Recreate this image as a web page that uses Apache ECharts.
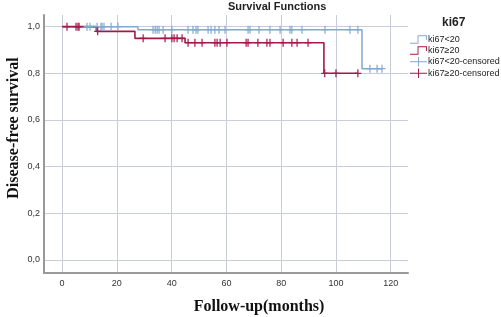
<!DOCTYPE html>
<html>
<head>
<meta charset="utf-8">
<script src="https://cdn.jsdelivr.net/npm/echarts@6/dist/echarts.min.js"></script>
<style>
  html, body { margin: 0; padding: 0; background: #fff; }
  #main { width: 501px; height: 317px; }
</style>
</head>
<body>
<div id="main"></div>
<script>
// Kaplan-Meier steps (time in months, survival)
var lowStepT = [0, 27.7, 109.5, 116.8];
var lowStepS = [1.0, 0.987, 0.82, 0.82];
var highStepT = [0, 12.5, 26.6, 44.9, 95.6, 108.0];
var highStepS = [1.0, 0.98, 0.95, 0.931, 0.80, 0.80];

// censored times
var lowCensor = [9.1, 10.2, 12.8, 14.2, 14.6, 15.3, 17.9, 20.4, 33.2, 34.0, 34.7, 35.4, 36.9, 40.1,
  46.0, 47.8, 48.9, 49.6, 53.3, 54.4, 55.8, 57.3, 59.5, 67.9, 68.6, 71.9, 75.9, 79.6, 83.2, 83.9,
  87.6, 96.0, 105.1, 108.0, 112.4, 115.0, 116.8];
var highCensor = [1.8, 5.1, 5.8, 6.2, 13.0, 29.6, 37.6, 40.1, 40.9, 42.0, 43.8, 46.0, 48.5, 51.1,
  55.8, 56.6, 57.7, 60.2, 67.2, 67.9, 71.5, 74.8, 75.9, 80.7, 83.9, 85.8, 89.8, 95.9, 100.0, 108.0];

var xTicks = [0, 20, 40, 60, 80, 100, 120];
var yTicks = [0, 0.2, 0.4, 0.6, 0.8, 1.0];

var blue = '#84a8d2';
var red = '#a3194b';

function steps(t, s) {
  var out = [];
  for (var i = 0; i < t.length; i++) out.push([t[i], s[i]]);
  return out;
}
function survAt(t, s, x) {
  var v = s[0];
  for (var i = 0; i < t.length; i++) { if (t[i] <= x) v = s[i]; }
  return v;
}
function censorPts(c, t, s) {
  return c.map(function (x) { return [x, survAt(t, s, x)]; });
}

var stepIcon = 'path://M0,8L8,8L8,0L18,0L18,5L17,5L17,1L9,1L9,9L0,9Z';
var crossIcon = 'path://M0,4.5h18v1h-18z M8.5,0h1v10h-1z';
var crossSym = 'path://M0,3.4h7v1.2h-7z M2.9,0h1.2v8h-1.2z';

var myChart = echarts.init(document.getElementById('main'));
var option = {
  backgroundColor: '#fff',
  animation: false,
  title: [{
    text: 'Survival Functions',
    left: 228, top: 1, padding: 0,
    textStyle: { fontFamily: 'Liberation Sans', fontWeight: 'bold', fontSize: 11, color: '#222' }
  }, {
    text: 'ki67',
    left: 442, top: 17, padding: 0,
    textStyle: { fontFamily: 'Liberation Sans', fontWeight: 'bold', fontSize: 12, color: '#222' }
  }],
  legend: {
    orient: 'vertical',
    left: 410, top: 35, padding: 0,
    itemWidth: 17, itemHeight: 10, itemGap: 2,
    itemStyle: { borderWidth: 0 },
    textStyle: { fontFamily: 'Liberation Sans', fontSize: 9, color: '#222', padding: [0, 0, 0, -4] },
    data: [
      { name: 'ki67<20', icon: stepIcon, itemStyle: { color: blue } },
      { name: 'ki67≥20', icon: stepIcon, itemStyle: { color: red } },
      { name: 'ki67<20-censored', icon: crossIcon, itemStyle: { color: blue } },
      { name: 'ki67≥20-censored', icon: crossIcon, itemStyle: { color: red } }
    ]
  },
  grid: { left: 44, right: 93, top: 15, bottom: 44 },
  xAxis: {
    type: 'value', min: -6.6, max: 126.3,
    axisLine: { show: true, onZero: false, lineStyle: { color: '#999', width: 2 } },
    axisTick: { show: false, customValues: xTicks },
    axisLabel: { customValues: xTicks, margin: 6, fontSize: 9, color: '#333', fontFamily: 'Liberation Sans' },
    splitLine: { show: true, lineStyle: { color: '#c8cdd9', width: 1 } }
  },
  yAxis: {
    type: 'value', min: -0.056, max: 1.05,
    axisLine: { show: true, onZero: false, lineStyle: { color: '#999', width: 2 } },
    axisTick: { show: false, customValues: yTicks },
    axisLabel: {
      customValues: yTicks, margin: 4, fontSize: 9, color: '#333', fontFamily: 'Liberation Sans',
      formatter: function (v) { return v.toFixed(1).replace('.', ','); }
    },
    splitLine: { show: true, lineStyle: { color: '#c8cdd9', width: 1 } }
  },
  graphic: [{
    type: 'text', x: 14, y: 128, rotation: Math.PI / 2,
    style: { text: 'Disease-free survival', font: 'bold 16px "Liberation Serif"', fill: '#111', align: 'center', verticalAlign: 'middle' }
  }, {
    type: 'text', x: 259, y: 307,
    style: { text: 'Follow-up(months)', font: 'bold 16px "Liberation Serif"', fill: '#111', align: 'center', verticalAlign: 'middle' }
  }],
  series: [{
    name: 'ki67<20', type: 'line', step: 'end', showSymbol: false,
    data: steps(lowStepT, lowStepS),
    lineStyle: { color: blue, width: 1.5 }, itemStyle: { color: blue }, z: 3
  }, {
    name: 'ki67≥20', type: 'line', step: 'end', showSymbol: false,
    data: steps(highStepT, highStepS),
    lineStyle: { color: red, width: 1.6 }, itemStyle: { color: red }, z: 4
  }, {
    name: 'ki67<20-censored', type: 'scatter', symbol: crossSym, symbolSize: [7, 8],
    data: censorPts(lowCensor, lowStepT, lowStepS),
    itemStyle: { color: blue, opacity: 1 }, z: 5
  }, {
    name: 'ki67≥20-censored', type: 'scatter', symbol: crossSym, symbolSize: [7, 8],
    data: censorPts(highCensor, highStepT, highStepS),
    itemStyle: { color: red, opacity: 1 }, z: 6
  }]
};
myChart.setOption(option);
</script>
</body>
</html>
